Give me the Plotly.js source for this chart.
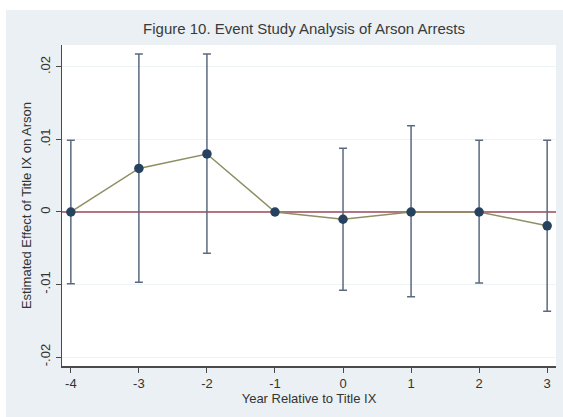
<!DOCTYPE html>
<html><head><meta charset="utf-8">
<script src="https://cdn.plot.ly/plotly-3.0.1.min.js"></script>
<style>
html,body{margin:0;padding:0;background:#ffffff;}
#chart{position:absolute;left:6px;top:10px;width:557px;height:407px;}
</style></head>
<body><div id="chart"></div>
<script>
const years = [-4, -3, -2, -1, 0, 1, 2, 3];
const estimates = [0, 0.006, 0.008, 0, -0.001, 0, 0, -0.0019];
const ciUpper = [0.0099, 0.0218, 0.0218, 0, 0.0088, 0.0119, 0.0099, 0.0099];
const ciLower = [-0.0099, -0.0097, -0.0057, 0, -0.0108, -0.0117, -0.0098, -0.0137];
const yTickVals = [-0.02, -0.01, 0, 0.01, 0.02];
const yTickText = ['-.02', '-.01', '0', '.01', '.02'];
const xTickVals = [-4, -3, -2, -1, 0, 1, 2, 3];

const errPlus = estimates.map((v, i) => ciUpper[i] - v);
const errMinus = estimates.map((v, i) => v - ciLower[i]);

const traces = [
  {
    x: [years[0] - 0.2, years[years.length - 1] + 0.2], y: [0, 0],
    mode: 'lines', line: {color: '#9b4a5a', width: 1.5}, hoverinfo: 'skip', showlegend: false
  },
  {
    x: years, y: estimates, mode: 'lines',
    line: {color: '#8f8f64', width: 1.5}, showlegend: false
  },
  {
    x: years, y: estimates, mode: 'markers',
    marker: {color: '#26425e', size: 9.5},
    error_y: {type: 'data', symmetric: false, array: errPlus, arrayminus: errMinus,
              color: '#5b6a80', thickness: 1.5, width: 4},
    showlegend: false
  }
];

const layout = {
  width: 557, height: 407,
  paper_bgcolor: '#eaf0f3', plot_bgcolor: '#ffffff',
  margin: {l: 56, r: 7, t: 35, b: 51},
  font: {family: 'Liberation Sans, Arial, sans-serif', color: '#333333', size: 13},
  title: {text: 'Figure 10. Event Study Analysis of Arson Arrests', x: 0.535, xanchor: 'center', y: 0.955, yanchor: 'middle',
          font: {size: 15, color: '#3a3a3a'}},
  xaxis: {
    range: [-4.13, 3.13], tickvals: xTickVals, ticktext: xTickVals.map(String),
    showgrid: false, zeroline: false, showline: true, linecolor: '#4a4a4a', linewidth: 1.5,
    ticks: 'outside', ticklen: 5, tickcolor: '#4a4a4a', tickfont: {size: 13, color: '#333'},
    title: {text: 'Year Relative to Title IX', font: {size: 13, color: '#333'}, standoff: 1}
  },
  yaxis: {
    range: [-0.02124, 0.02303], tickvals: yTickVals, ticktext: yTickText, tickangle: -90,
    showgrid: true, gridcolor: '#eef3f5', gridwidth: 1, zeroline: false,
    showline: true, linecolor: '#4a4a4a', linewidth: 1.5,
    ticks: 'outside', ticklen: 5, tickcolor: '#4a4a4a', tickfont: {size: 13, color: '#333'},
    title: {text: 'Estimated Effect of Title IX on Arson', font: {size: 13, color: '#333'}, standoff: 3}
  }
};

Plotly.newPlot('chart', traces, layout, {displayModeBar: false, staticPlot: true});
</script></body></html>
